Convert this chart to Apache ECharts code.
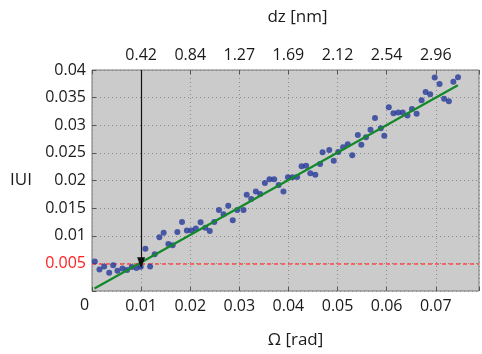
<!DOCTYPE html>
<html>
<head>
<meta charset="utf-8">
<script src="https://cdn.jsdelivr.net/npm/echarts@6/dist/echarts.min.js"></script>
<style>
  html, body { margin: 0; padding: 0; background: #fff; }
  #chart { width: 482px; height: 354px; }
</style>
</head>
<body>
<div id="chart"></div>
<script>
// measured points, Ω [rad] vs |U|
const omega = [0.00057, 0.00152, 0.00248, 0.00350, 0.00431, 0.00518, 0.00620, 0.00715, 0.00809, 0.00904,
  0.00992, 0.01087, 0.01183, 0.01276, 0.01372, 0.01459, 0.01555, 0.01642, 0.01738, 0.01833,
  0.01931, 0.02022, 0.02114, 0.02211, 0.02307, 0.02398, 0.02490, 0.02585, 0.02679, 0.02774,
  0.02866, 0.02957, 0.03085, 0.03150, 0.03242, 0.03337, 0.03425, 0.03520, 0.03614, 0.03709,
  0.03801, 0.03898, 0.03990, 0.04081, 0.04177, 0.04268, 0.04360, 0.04445, 0.04547, 0.04644,
  0.04695, 0.04831, 0.04923, 0.05014, 0.05112, 0.05207, 0.05299, 0.05413, 0.05484, 0.05579,
  0.05671, 0.05762, 0.05880, 0.05951, 0.06043, 0.06138, 0.06234, 0.06327, 0.06423, 0.06514,
  0.06610, 0.06711, 0.06793, 0.06886, 0.06978, 0.07077, 0.07169, 0.07266, 0.07358, 0.07453];
const absU = [0.00536, 0.00391, 0.00445, 0.00329, 0.00464, 0.00365, 0.00409, 0.00378, 0.00433, 0.00415,
  0.00438, 0.00765, 0.00445, 0.00664, 0.00973, 0.01056, 0.00851, 0.00827, 0.01069, 0.01251,
  0.01096, 0.01096, 0.01129, 0.01245, 0.01145, 0.01084, 0.01247, 0.01464, 0.01387, 0.01545,
  0.01282, 0.01464, 0.01465, 0.01742, 0.01665, 0.01802, 0.01755, 0.01955, 0.02024, 0.02024,
  0.01920, 0.01802, 0.02060, 0.02060, 0.02064, 0.02256, 0.02269, 0.02133, 0.02105, 0.02300,
  0.02511, 0.02551, 0.02356, 0.02518, 0.02602, 0.02655, 0.02456, 0.02824, 0.02647, 0.02782,
  0.02918, 0.03129, 0.02945, 0.02811, 0.03327, 0.03215, 0.03229, 0.03229, 0.03175, 0.03296,
  0.03209, 0.03451, 0.03600, 0.03560, 0.03865, 0.03745, 0.03478, 0.03433, 0.03787, 0.03869];

// linear fit, end points
const fitOmega = [0.0005, 0.0745];
const fitU = [0.00045, 0.03724];

const threshold = 0.005;
const arrowOmega = 0.01;

// top axis labels (dz [nm]) at Ω = 0.01 ... 0.07
const dzLabels = ['0.42', '0.84', '1.27', '1.69', '2.12', '2.54', '2.96'];
const omegaTicks = [0.01, 0.02, 0.03, 0.04, 0.05, 0.06, 0.07];

const FONT = 'Open Sans';
const xMax = 0.0788;

const chart = echarts.init(document.getElementById('chart'));

function tickIndex(v) {
  for (let i = 0; i < omegaTicks.length; i++) {
    if (Math.abs(v - omegaTicks[i]) < 1e-6) return i;
  }
  return -1;
}

chart.setOption({
  animation: false,
  grid: {
    left: 92, right: 1, top: 70, bottom: 63,
    show: true,
    backgroundColor: '#cbcbcb',
    borderColor: '#777',
    borderWidth: 1
  },
  graphic: [
    { type: 'text', left: 80, top: 297,
      style: { text: '0', font: '16px "' + FONT + '"', fill: '#1a1a1a' } }
  ],
  xAxis: [
    {
      type: 'value', position: 'bottom',
      min: 0, max: xMax, interval: 0.01,
      name: 'Ω [rad]', nameLocation: 'middle', nameGap: 41,
      nameTextStyle: { fontFamily: FONT, fontSize: 17, color: '#1a1a1a', padding: [0, 0, 0, 20] },
      axisLine: { show: false },
      axisTick: { show: true, inside: true, length: 4, lineStyle: { color: '#555' } },
      axisLabel: {
        fontFamily: FONT, fontSize: 16, color: '#1a1a1a', margin: 7,
        formatter: v => tickIndex(v) >= 0 ? String(omegaTicks[tickIndex(v)]) : ''
      },
      splitLine: { show: true, lineStyle: { color: '#8a8a8a', type: [1, 3], width: 1 } }
    },
    {
      type: 'value', position: 'top',
      min: 0, max: xMax, interval: 0.01,
      name: 'dz [nm]', nameLocation: 'middle', nameGap: 44,
      nameTextStyle: { fontFamily: FONT, fontSize: 17, color: '#1a1a1a', padding: [0, 0, 0, 24] },
      axisLine: { show: false },
      axisTick: { show: true, inside: true, length: 4, lineStyle: { color: '#555' } },
      axisLabel: {
        fontFamily: FONT, fontSize: 16, color: '#1a1a1a', margin: 7,
        formatter: v => tickIndex(v) >= 0 ? dzLabels[tickIndex(v)] : ''
      },
      splitLine: { show: false }
    }
  ],
  yAxis: {
    type: 'value', min: 0, max: 0.04, interval: 0.005,
    name: 'IUI', nameLocation: 'middle', nameRotate: 0, nameGap: 60,
    nameTextStyle: { fontFamily: FONT, fontSize: 17, color: '#1a1a1a', padding: [0, 0, 22, 0] },
    axisLine: { show: false },
    axisTick: { show: true, inside: true, length: 4, lineStyle: { color: '#555' } },
    axisLabel: {
      fontFamily: FONT, fontSize: 16, margin: 6,
      color: v => Math.abs(v - threshold) < 1e-9 ? '#ff2020' : '#1a1a1a',
      formatter: v => v === 0 ? '' : String(+v.toFixed(3))
    },
    splitLine: { show: true, lineStyle: { color: '#8a8a8a', type: [1, 3], width: 1 } }
  },
  series: [
    {
      type: 'scatter',
      data: omega.map((o, i) => [o, absU[i]]),
      symbol: 'circle', symbolSize: 6,
      itemStyle: { color: '#26399a' },
      z: 3,
      markLine: {
        symbol: ['none', 'none'], silent: true, z: 1,
        label: { show: false },
        lineStyle: { color: '#ff4a4a', type: [4, 3], width: 1.5 },
        data: [[{ coord: [0, threshold] }, { coord: [xMax, threshold] }]]
      }
    },
    {
      type: 'line',
      data: fitOmega.map((o, i) => [o, fitU[i]]),
      showSymbol: false,
      lineStyle: { color: '#13892a', width: 2.2 },
      z: 4,
      markLine: {
        silent: true, z: 6,
        symbol: ['none', 'triangle'], symbolSize: [8, 11],
        label: { show: false },
        lineStyle: { color: '#111', type: 'solid', width: 1.2 },
        data: [[{ coord: [arrowOmega, 0.04] }, { coord: [arrowOmega, threshold + 0.0001] }]]
      }
    }
  ]
});
</script>
</body>
</html>
